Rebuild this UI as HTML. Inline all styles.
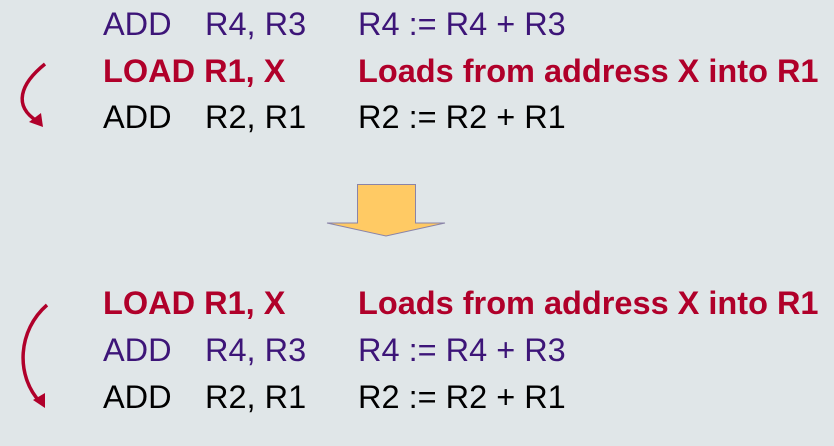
<!DOCTYPE html>
<html><head><meta charset="utf-8"><style>
html,body{margin:0;padding:0;background:#e0e6e8;}
svg{display:block;}
text{font-family:"Liberation Sans",Arial,sans-serif;font-size:32.5px;}
.p{fill:#3d1578;}
.r{fill:#b0002a;font-weight:bold;}
.k{fill:#000;}
</style></head><body>
<svg width="834" height="446" viewBox="0 0 834 446" xmlns="http://www.w3.org/2000/svg">
<rect width="834" height="446" fill="#e0e6e8"/>
<g>
<text class="p" x="103" y="35">ADD</text><text class="p" x="205" y="35">R4, R3</text><text class="p" x="358" y="35">R4 := R4 + R3</text>
<text class="r" x="103" y="82">LOAD R1, X</text><text class="r" x="358" y="82">Loads from address X into R1</text>
<text class="k" x="103" y="128">ADD</text><text class="k" x="205" y="128">R2, R1</text><text class="k" x="358" y="128">R2 := R2 + R1</text>

<text class="r" x="103" y="314">LOAD R1, X</text><text class="r" x="358" y="314">Loads from address X into R1</text>
<text class="p" x="103" y="361">ADD</text><text class="p" x="205" y="361">R4, R3</text><text class="p" x="358" y="361">R4 := R4 + R3</text>
<text class="k" x="103" y="408">ADD</text><text class="k" x="205" y="408">R2, R1</text><text class="k" x="358" y="408">R2 := R2 + R1</text>
</g>
<path d="M45 64 C20 84 13 106 37 121" fill="none" stroke="#b0002a" stroke-width="3.5"/>
<path d="M29 122 L43 127 L41 113 Z" fill="#b0002a"/>
<path d="M47 305 C18 330 15 375 40 402" fill="none" stroke="#b0002a" stroke-width="3.5"/>
<path d="M33 400 L45 408 L45 393 Z" fill="#b0002a"/>
<path d="M357.5 184.5 H415.5 V223 H445 L386 236 L327 223 H357.5 Z" fill="#ffca64" stroke="#8a84a8" stroke-width="1"/>
</svg>
</body></html>
